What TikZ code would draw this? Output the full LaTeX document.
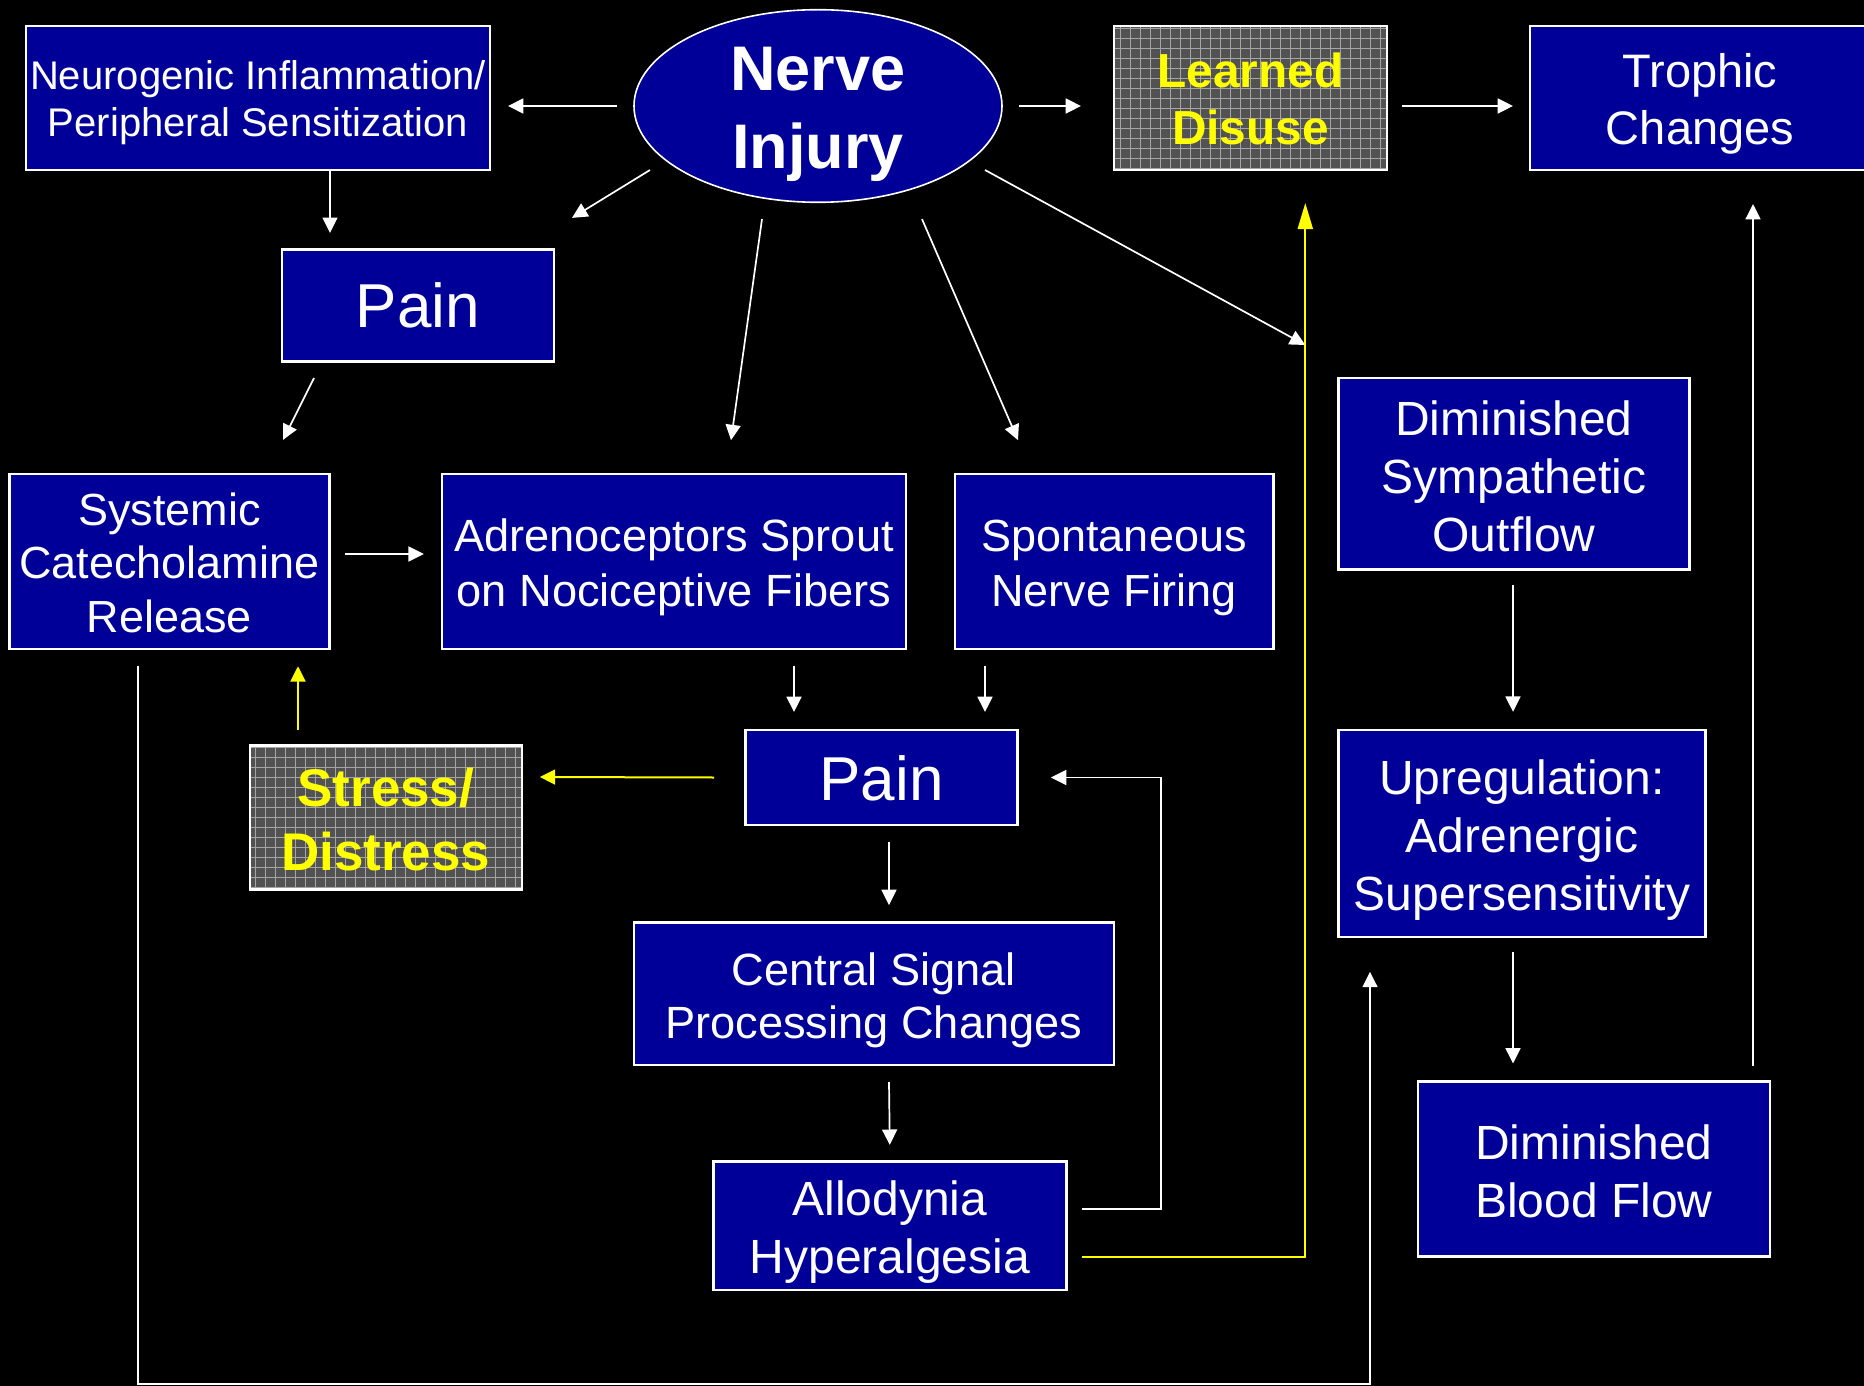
\documentclass[tikz,border=0pt]{standalone}
\usepackage{fontspec}
\setmainfont{Liberation Sans}
\usetikzlibrary{arrows.meta,shapes.geometric,calc}
\definecolor{boxblue}{RGB}{0,0,153}
\definecolor{hatchbg}{RGB}{82,82,82}
\definecolor{hatchln}{RGB}{165,165,165}
\definecolor{yel}{RGB}{255,255,0}
\newcommand{\fsz}[2]{\fontsize{#1}{#2}\selectfont}
\begin{document}
\begin{tikzpicture}[x=0.5pt,y=-0.5pt,
  bluebox/.style={rectangle, draw=white, line width=1.2pt, fill=boxblue, inner sep=0pt, outer sep=0pt},
  hatchbox/.style={rectangle, draw=white, line width=1.2pt, fill=hatchbg, inner sep=0pt, outer sep=0pt,
    path picture={\draw[hatchln, line width=0.45pt] (path picture bounding box.south west) grid[step=5pt] (path picture bounding box.north east);}},
  lbl/.style={text=white, align=center, inner sep=0pt, outer sep=0pt},
  ylbl/.style={text=yel, align=center, inner sep=0pt, outer sep=0pt},
  arr/.style={draw=white, line width=0.85pt, -{Triangle[length=7.7pt,width=7.5pt]}},
  yarr/.style={draw=yel, line width=1pt, -{Triangle[length=7.7pt,width=7.5pt]}},
  longtip/.style={-{Triangle[length=13pt,width=7.5pt]}},
]
\fill[black] (0,0) rectangle (1864,1386);
\useasboundingbox (0,0) rectangle (1864,1386);

\node[bluebox, minimum width=232pt, minimum height=72pt,
  label={[lbl, yshift=-2.4pt, font=\fsz{20}{23.8}]center:{Neurogenic Inflammation/\\Peripheral Sensitization}}] (neuro) at (258,98) {};
\node[ellipse, draw=white, line width=0.8pt, fill=boxblue, minimum width=184pt, minimum height=96.3pt, inner sep=0pt,
  label={[lbl, yshift=-4.2pt, font=\bfseries\fsz{31.5}{39}]center:{Nerve\\Injury}}] (nerve) at (818,106) {};
\node[hatchbox, minimum width=136.5pt, minimum height=72pt,
  label={[ylbl, yshift=-0.6pt, font=\bfseries\fsz{23.9}{28.7}]center:{Learned\\Disuse}}] (learned) at (1250.5,98) {};
\node[bluebox, minimum width=170pt, minimum height=72pt,
  label={[lbl, yshift=-3pt, font=\fsz{23.5}{28.5}]center:{Trophic\\Changes}}] (trophic) at (1700,98) {};
\node[bluebox, minimum width=136pt, minimum height=56pt,
  label={[lbl, font=\fsz{31}{37}]center:{Pain}}] (paintop) at (418,305.5) {};
\node[bluebox, minimum width=160pt, minimum height=87.5pt,
  label={[lbl, yshift=-0.6pt, font=\fsz{22.5}{26.75}]center:{Systemic\\Catecholamine\\Release}}] (systemic) at (169.4,561.7) {};
\node[bluebox, minimum width=232pt, minimum height=87.5pt,
  label={[lbl, yshift=-3pt, font=\fsz{22.6}{27.4}]center:{Adrenoceptors Sprout\\on Nociceptive Fibers}}] (adreno) at (674,561.7) {};
\node[bluebox, minimum width=159.3pt, minimum height=87.5pt,
  label={[lbl, yshift=-3pt, font=\fsz{22.5}{27.4}]center:{Spontaneous\\Nerve Firing}}] (spont) at (1114,561.7) {};
\node[bluebox, minimum width=175.4pt, minimum height=95.7pt,
  label={[lbl, yshift=-1.2pt, font=\fsz{24}{29}]center:{Diminished\\Sympathetic\\Outflow}}] (dimsymp) at (1514,473.7) {};
\node[bluebox, minimum width=136pt, minimum height=47.5pt,
  label={[lbl, yshift=-0.6pt, font=\fsz{31}{37}]center:{Pain}}] (painmid) at (881.5,777.5) {};
\node[hatchbox, minimum width=136pt, minimum height=72pt,
  label={[ylbl, yshift=-1.2pt, font=\bfseries\fsz{26.5}{32}]center:{Stress/\\Distress}}] (stress) at (385.8,817.3) {};
\node[bluebox, minimum width=183.5pt, minimum height=103.5pt,
  label={[lbl, yshift=-3.6pt, font=\fsz{24}{29}]center:{Upregulation:\\Adrenergic\\Supersensitivity}}] (upreg) at (1522,833.3) {};
\node[bluebox, minimum width=240pt, minimum height=71.3pt,
  label={[lbl, yshift=-3.3pt, font=\fsz{22.6}{26.75}]center:{Central Signal\\Processing Changes}}] (central) at (873.8,993.9) {};
\node[bluebox, minimum width=176.5pt, minimum height=64.2pt,
  label={[lbl, yshift=-3pt, font=\fsz{24}{29}]center:{Allodynia\\Hyperalgesia}}] (allo) at (889.8,1225.6) {};
\node[bluebox, minimum width=176pt, minimum height=87.5pt,
  label={[lbl, yshift=-1.2pt, font=\fsz{24}{29}]center:{Diminished\\Blood Flow}}] (blood) at (1594,1169) {};

\draw[arr] ($(nerve.west)+(-16,0)$) -- ($(neuro.east)+(18,8)$);
\draw[arr] ($(nerve.center)+(-168,64)$) -- ($(paintop.north east)+(18,-31.6)$);
\draw[arr] ($(neuro.south)+(72,0)$) -- ($(paintop.north)+(-88,-16.6)$);
\draw[arr] ($(nerve.east)+(16,0)$) -- ($(learned.west)+(-33,8)$);
\draw[arr] ($(learned.east)+(15,8)$) -- ($(trophic.west)+(-17,8)$);
\draw[arr] ($(nerve.south)+(-56,16)$) -- ($(adreno.north)+(57,-34)$);
\draw[arr] ($(nerve.south)+(104,16)$) -- ($(spont.north)+(-96,-34)$);
\draw[arr] ($(nerve.center)+(167,64)$) -- ($(learned.south)+(54.8,175)$);
\draw[arr] ($(paintop.south)+(-104,16.6)$) -- ($(systemic.north)+(113.6,-34.3)$);
\draw[arr] ($(systemic.east)+(15.7,-7.7)$) -- ($(adreno.west)+(-18.2,-7.7)$);
\draw[arr] ($(adreno.south)+(120,17)$) -- ($(painmid.north)+(-87.5,-18)$);
\draw[arr] ($(spont.south)+(-129,17)$) -- ($(painmid.north)+(103.5,-18)$);
\draw[yarr] ($(painmid.west)+(-31.4,0)$) -- ($(stress.east)+(18,-40.3)$);
\draw[yarr] ($(stress.north)+(-87.8,-15.4)$) -- ($(systemic.south)+(128.6,17)$);
\draw[arr] ($(painmid.south)+(7.5,17)$) -- ($(central.north)+(15.2,-17.5)$);
\draw[arr] ($(central.south)+(15.2,17)$) -- ($(allo.north)+(0,-16.5)$);
\draw[arr] ($(allo.east)+(16,-16.6)$) -- ++(79,0) |- ($(painmid.east)+(33.4,0)$);
\draw[yarr, longtip] ($(allo.east)+(16,31.4)$) -| ($(learned.south)+(54.8,33)$);
\draw[arr] ($(systemic.south)+(-31.4,17)$) -- ++(0,718) -| ($(upreg.south)+(-152,35)$);
\draw[arr] ($(dimsymp.south)+(-1,15.6)$) -- ($(upreg.north)+(-9,-18)$);
\draw[arr] ($(upreg.south)+(-9,15)$) -- ($(blood.north)+(-81,-18)$);
\draw[arr] ($(blood.north)+(159,-16)$) -- ($(trophic.south)+(53,34)$);
\end{tikzpicture}
\end{document}
